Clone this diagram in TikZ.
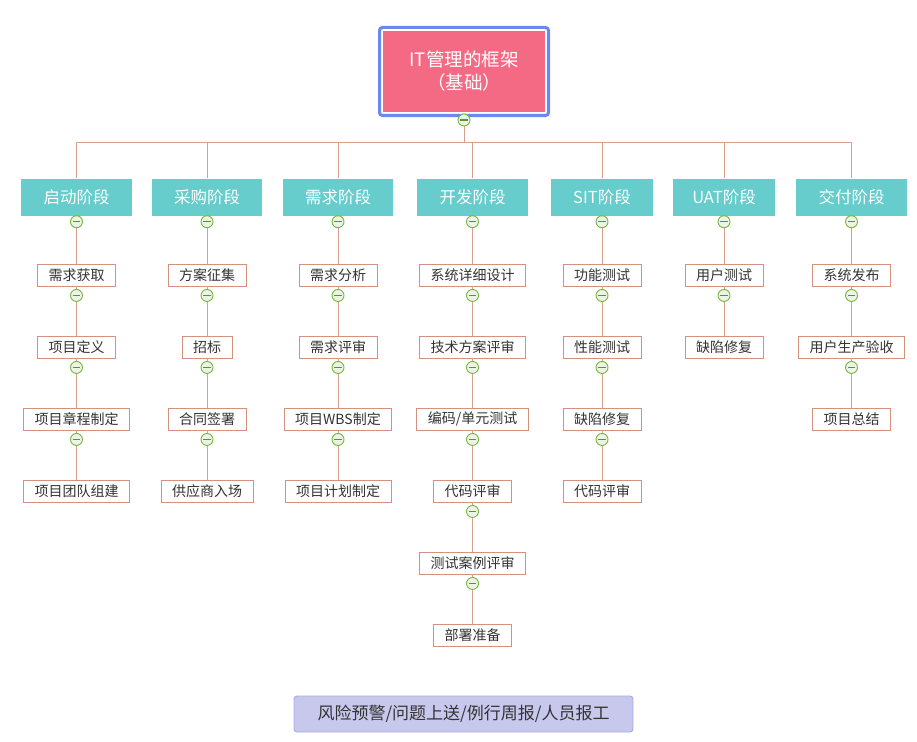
\documentclass[tikz,border=0pt]{standalone}
\usepackage{fontspec}
\setmainfont{Noto Sans CJK SC}
\definecolor{rootpink}{HTML}{F46A84}
\definecolor{rootblue}{HTML}{6C86F2}
\definecolor{teal}{HTML}{66CCCC}
\definecolor{kidline}{HTML}{D4917E}
\definecolor{conn}{HTML}{D9A08C}
\definecolor{cgreen}{HTML}{72B83E}
\definecolor{cfill}{HTML}{EDF4E6}
\definecolor{botfill}{HTML}{C8C8EC}
\definecolor{botline}{HTML}{A9A9E4}
\definecolor{txt}{HTML}{333333}
\tikzset{
  conline/.style={draw=conn, line width=0.9pt},
  stagebox/.style={fill=teal, draw=none, minimum height=37pt, inner sep=0pt,
     text=white, font=\fontsize{16.5}{18}\selectfont},
  kidbox/.style={fill=white, draw=kidline, line width=0.9pt, minimum height=22pt,
     inner xsep=11pt, inner ysep=0pt, text=txt, font=\fontsize{14}{16}\selectfont},
  minusbtn/.style={circle, draw=cgreen, line width=0.9pt, fill=cfill, minimum size=12pt, inner sep=0pt,
     path picture={\draw[cgreen!80!black, line width=1.3pt]
       ([xshift=-3.6pt]path picture bounding box.center) -- ([xshift=3.6pt]path picture bounding box.center);}},
}
\begin{document}
\begin{tikzpicture}[x=1pt,y=-1pt]
\useasboundingbox[fill=white] (0,0) rectangle (917,741);
% root
\node[draw=rootblue, line width=3pt, rounded corners=3pt, fill=white, minimum width=169pt, minimum height=88pt] (rootframe) at (464,71.5) {};
\node[fill=rootpink, minimum width=162pt, minimum height=81pt, text=white, align=center,
      font=\fontsize{18.5}{23}\selectfont] (root) at (464,71.5) {IT管理的框架\\（基础）};
\coordinate (busL) at (76.5,142);
\coordinate (busR) at (851.5,142);
\draw[conline] (busL) -- (busR);
\draw[conline] (rootframe.south) -- (rootframe.south |- busL);
\node[minusbtn] (rootbtn) at ([yshift=-3pt]rootframe.south) {};
\foreach \col/\x/\stage/\sw/\kids in {
  1/76.5/启动阶段/111/{需求获取,项目定义,项目章程制定,项目团队组建},
  2/207/采购阶段/110/{方案征集,招标,合同签署,供应商入场},
  3/338/需求阶段/110/{需求分析,需求评审,项目WBS制定,项目计划制定},
  4/472.5/开发阶段/111/{系统详细设计,技术方案评审,编码/单元测试,代码评审,测试案例评审,部署准备},
  5/602/SIT阶段/102/{功能测试,性能测试,缺陷修复,代码评审},
  6/724/UAT阶段/102/{用户测试,缺陷修复},
  7/851.5/交付阶段/111/{系统发布,用户生产验收,项目总结}}{
  \node[stagebox, minimum width=\sw pt] (c\col-0) at (\x,197) {\stage};
  \draw[conline] (c\col-0.north) -- (c\col-0.north |- busL);
  \foreach \k [count=\i, remember=\i as \lasti (initially 0)] in \kids {
    \pgfmathsetmacro\yy{275+72*(\i-1)}
    \node[kidbox] (c\col-\i) at (\x,\yy) {\k};
    \draw[conline] (c\col-\lasti.south) -- (c\col-\i.north);
    \pgfmathsetmacro\off{\lasti==0?6:9}
    \node[minusbtn] (b\col-\lasti) at ([yshift=-\off pt]c\col-\lasti.south) {};
  }
}
% bottom note
\node[fill=botfill, draw=botline, line width=0.9pt, rounded corners=3pt, minimum width=339pt,
      minimum height=36pt, text=txt, font=\fontsize{17}{20}\selectfont] (note) at (463.5,714) {风险预警/问题上送/例行周报/人员报工};
\end{tikzpicture}
\end{document}
